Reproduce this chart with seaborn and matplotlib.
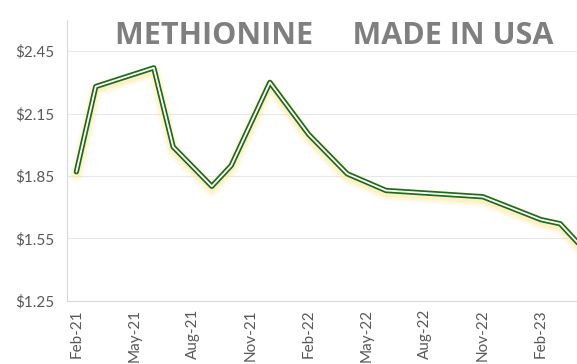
import matplotlib
matplotlib.use("Agg")
import matplotlib.pyplot as plt
import matplotlib.patheffects as pe
import seaborn as sns
import pandas as pd

# monthly prices, $ per unit
months = ["2021-02", "2021-03", "2021-06", "2021-07", "2021-09", "2021-10",
          "2021-12", "2022-02", "2022-04", "2022-06", "2022-11", "2023-02",
          "2023-03", "2023-04"]
prices = [1.87, 2.28, 2.37, 1.99, 1.80, 1.90, 2.30, 2.05, 1.86, 1.78,
          1.75, 1.64, 1.62, 1.52]
tick_labels = ["Feb-21", "May-21", "Aug-21", "Nov-21", "Feb-22", "May-22",
               "Aug-22", "Nov-22", "Feb-23"]
y_ticks = [1.25, 1.55, 1.85, 2.15, 2.45]

start = pd.Period("2021-02", freq="M")
df = pd.DataFrame({"month": months, "price": prices})
df["idx"] = [(pd.Period(m, freq="M") - start).n for m in df["month"]]

sns.set_style("white")
plt.rcParams["font.family"] = ["Lato", "DejaVu Sans"]

fig = plt.figure(figsize=(5.77, 3.64), dpi=100)
ax = fig.add_axes([0.1156, 0.174, 0.8844, 0.771])

# soft yellow glow under a double (green / white) line
glow = "#ffe690"
effects = [
    pe.SimpleLineShadow(offset=(0, -2.4), shadow_color=glow, alpha=0.15, linewidth=10),
    pe.SimpleLineShadow(offset=(0, -2.2), shadow_color=glow, alpha=0.2, linewidth=7.5),
    pe.SimpleLineShadow(offset=(0, -2.0), shadow_color=glow, alpha=0.3, linewidth=5),
    pe.Stroke(linewidth=3.8, foreground="#1d6a1d"),
    pe.Normal(),
]
sns.lineplot(data=df, x="idx", y="price", ax=ax, color="white",
             linewidth=1.3, path_effects=effects)

ax.set_xlim(-0.5, 25.87)
ax.set_ylim(1.25, 2.60)

ax.set_yticks(y_ticks)
ax.set_yticklabels([f"${v:.2f}" for v in y_ticks])
ax.yaxis.grid(True, color="#e8e8e8", linewidth=0.8)
ax.set_axisbelow(True)

# tick marks at month-slot boundaries, labels in the slot centres
label_pos = [3 * i for i in range(len(tick_labels))]
ax.set_xticks([p - 0.5 for p in label_pos])
ax.set_xticklabels([])
ax.set_xticks(label_pos, minor=True)
ax.set_xticklabels(tick_labels, minor=True, rotation=90)
ax.tick_params(axis="x", which="major", length=5, color="#d9d9d9", width=0.8)
ax.tick_params(axis="x", which="minor", length=0, pad=6, labelsize=11,
               labelcolor="#595959")
ax.tick_params(axis="y", length=0, pad=9, labelsize=11, labelcolor="#595959")

for side in ["top", "right"]:
    ax.spines[side].set_visible(False)
for side in ["left", "bottom"]:
    ax.spines[side].set_color("#d9d9d9")
    ax.spines[side].set_linewidth(0.8)

ax.set_xlabel("")
ax.set_ylabel("")

fig.text(0.58, 0.90, "METHIONINE     MADE IN USA", ha="center", va="center",
         fontsize=22, fontweight="bold", color="#7f7f7f", family="Open Sans")

fig.savefig("out.png", dpi=100)
